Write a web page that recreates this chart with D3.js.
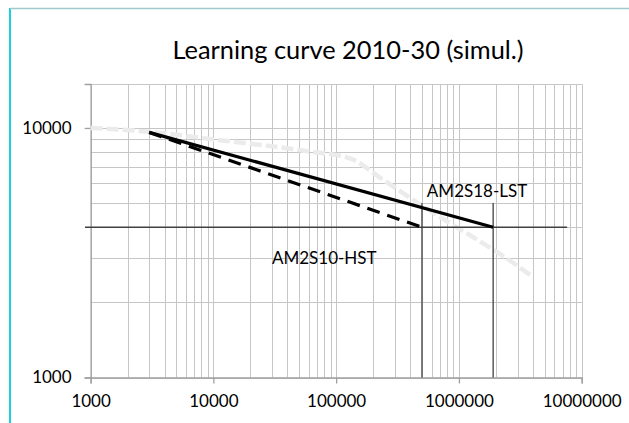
<!DOCTYPE html>
<html><head><meta charset="utf-8">
<script src="https://cdn.jsdelivr.net/npm/d3@7"></script>
<style>html,body{margin:0;padding:0;background:#fff;}svg{display:block;}</style>
</head><body>
<svg id="c" width="629" height="423"></svg>
<script>
// ---- data ----
const title = "Learning curve 2010-30 (simul.)";
const xTicks = [1000, 10000, 100000, 1000000, 10000000];
const yTicks = [1000, 10000];
const seriesLST = [[3000, 9600], [1900000, 4000]];          // AM2S18-LST (solid)
const seriesHST = [[3000, 9600], [500000, 4000]];           // AM2S10-HST (dashed)
const seriesSimul = [[1000, 10000], [3000, 9650], [10000, 9000], [60000, 8050], [130000, 7550],
  [230000, 6300], [480000, 4950], [850000, 4150], [1500000, 3500], [2450000, 3000], [4000000, 2530]];
const refHLine = [[900, 4000], [7600000, 4000]];
const refVLines = [[500000, 5000, 1000], [1900000, 5000, 1000]];
const labels = [{text: "AM2S18-LST", x: 548000, y: 5290}, {text: "AM2S10-HST", x: 30000, y: 2850}];

// ---- layout ----
const svg = d3.select("#c");
const L = 90.6, R = 581.7, T = 84, B = 377.5;
const x = d3.scaleLog().domain([1000, 10000000]).range([L, R]);
const y = d3.scaleLog().domain([1000, 15000]).range([B, T]);
const FONT = "Lato, 'Open Sans', sans-serif";

// outer border (cyan)
svg.append("line").attr("x1", 10).attr("x2", 10).attr("y1", 8).attr("y2", 423).attr("stroke", "#19d1df").attr("stroke-width", 2);
svg.append("line").attr("x1", 10).attr("x2", 629).attr("y1", 8.5).attr("y2", 8.5).attr("stroke", "#9fc9cd").attr("stroke-width", 1.5);

// gridlines
const gx = [], gy = [];
for (let k = 3; k < 7; k++) for (let m = 1; m < 10; m++) gx.push(m * Math.pow(10, k));
gx.push(10000000);
for (let m = 1; m <= 10; m++) gy.push(m * 1000);
const grid = svg.append("g").attr("stroke", "#c6c6c6").attr("stroke-width", 1);
grid.selectAll("line.v").data(gx).join("line").attr("x1", d => Math.round(x(d)) + 0.5).attr("x2", d => Math.round(x(d)) + 0.5).attr("y1", T).attr("y2", B);
grid.selectAll("line.h").data(gy).join("line").attr("y1", d => Math.round(y(d)) + 0.5).attr("y2", d => Math.round(y(d)) + 0.5).attr("x1", L).attr("x2", R);
svg.append("line").attr("x1", L).attr("x2", R).attr("y1", T + 0.5).attr("y2", T + 0.5).attr("stroke", "#c6c6c6");

// axes
const ax = svg.append("g").attr("transform", `translate(0,${B})`).call(d3.axisBottom(x).tickValues(xTicks).tickFormat(d3.format("d")).tickSize(6).tickPadding(11));
const ay = svg.append("g").attr("transform", `translate(${L},0)`).call(d3.axisLeft(y).tickValues(yTicks).tickFormat(d3.format("d")).tickSize(6).tickPadding(13));
[ax, ay].forEach(g => {
  g.select(".domain").attr("stroke", "#a0a0a0").attr("stroke-width", 1.3);
  g.selectAll(".tick line").attr("stroke", "#a0a0a0").attr("stroke-width", 1.3);
  g.selectAll("text").attr("font-family", FONT).attr("font-size", 17).attr("fill", "#000");
});
ax.selectAll("text").attr("dy", "0.71em");

// light simulated curve
const line = d3.line().x(d => x(d[0])).y(d => y(d[1])).curve(d3.curveMonotoneX);
svg.append("path").attr("d", line(seriesSimul)).attr("fill", "none").attr("stroke", "#ebebeb").attr("stroke-width", 4.5).attr("stroke-dasharray", "12,4");

// reference lines
svg.append("path").attr("d", d3.line().x(d => x(d[0])).y(d => y(d[1]))(refHLine)).attr("stroke", "#404040").attr("stroke-width", 1.3).attr("fill", "none");
svg.selectAll("line.rv").data(refVLines).join("line").attr("x1", d => x(d[0])).attr("x2", d => x(d[0])).attr("y1", d => y(d[1])).attr("y2", d => y(d[2])).attr("stroke", "#404040").attr("stroke-width", 1.3);

// main series
const lin = d3.line().x(d => x(d[0])).y(d => y(d[1]));
svg.append("path").attr("d", lin(seriesHST)).attr("fill", "none").attr("stroke", "#000").attr("stroke-width", 3.2).attr("stroke-dasharray", "13,8");
svg.append("path").attr("d", lin(seriesLST)).attr("fill", "none").attr("stroke", "#000").attr("stroke-width", 3.2);

// labels
svg.selectAll("text.lab").data(labels).join("text").attr("class", "lab").attr("x", d => x(d.x)).attr("y", d => y(d.y))
  .attr("font-family", FONT).attr("font-size", 17).attr("fill", "#000").text(d => d.text);

// title
svg.append("text").attr("x", 348).attr("y", 59).attr("text-anchor", "middle").attr("font-family", FONT).attr("font-size", 25.4).attr("fill", "#000").text(title);
</script>
</body></html>
